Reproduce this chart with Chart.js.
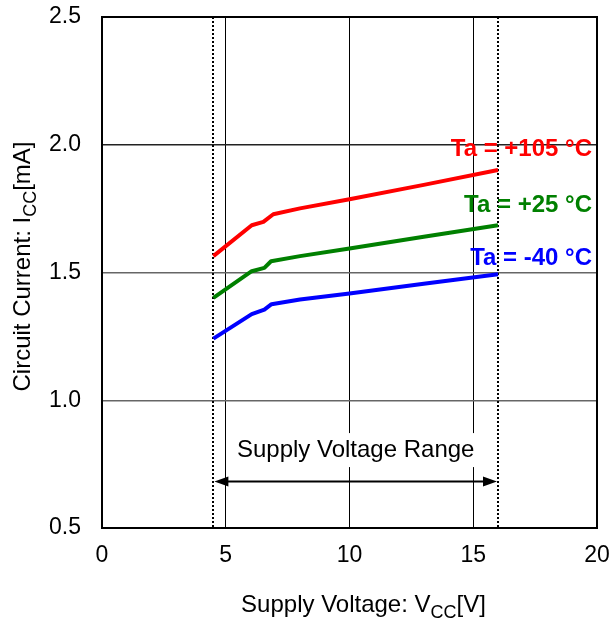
<!DOCTYPE html>
<html>
<head>
<meta charset="utf-8">
<script src="https://cdn.jsdelivr.net/npm/chart.js@4"></script>
<style>
  html, body { margin: 0; padding: 0; background: #fff; }
  #wrap { width: 609px; height: 626px; }
</style>
</head>
<body>
<div id="wrap"><canvas id="iccChart" width="609" height="626"></canvas></div>
<script>
// supply voltage sweep points [V] and circuit current [mA]
const vccHot = [4.5, 6.05, 6.52, 6.92, 8.0, 10, 13, 16];
const iccHot = [1.564, 1.685, 1.698, 1.728, 1.751, 1.787, 1.843, 1.901];
const vccRoom = [4.5, 6.05, 6.56, 6.83, 8.0, 10, 13, 16];
const iccRoom = [1.401, 1.505, 1.518, 1.544, 1.564, 1.594, 1.640, 1.685];
const vccCold = [4.5, 6.05, 6.56, 6.85, 8.0, 10, 13, 16];
const iccCold = [1.241, 1.337, 1.355, 1.376, 1.394, 1.418, 1.456, 1.493];

const seriesLabels = ['Ta = +105 °C', 'Ta = +25 °C', 'Ta = -40 °C'];
const seriesColors = ['#ff0000', '#008000', '#0000ff'];
const labelLevels = [1.983, 1.764, 1.556];

const xTicks = [0, 5, 10, 15, 20];
const yTicks = [0.5, 1.0, 1.5, 2.0, 2.5];
const vccRange = [4.5, 16];
const rangeArrowLevel = 0.682;
const rangeTextLevel = 0.805;

const FONT = 'Arial, "Liberation Sans", sans-serif';
const TEXT_SIZE = 24;

function toPoints(xs, ys) {
    return xs.map((x, i) => ({ x: x, y: ys[i] }));
}

// text with a subscript part, e.g. V + CC + [V]
function subText(ctx, parts, x, y, size) {
    const sub = Math.round(size * 0.75);
    const widths = parts.map(p => {
        ctx.font = (p.sub ? sub : size) + 'px ' + FONT;
        return ctx.measureText(p.t).width;
    });
    const total = widths.reduce((a, b) => a + b, 0);
    let cx = x - total / 2;
    ctx.textAlign = 'left';
    ctx.textBaseline = 'alphabetic';
    parts.forEach((p, i) => {
        ctx.font = (p.sub ? sub : size) + 'px ' + FONT;
        ctx.fillText(p.t, cx, y + (p.sub ? size * 0.25 : 0));
        cx += widths[i];
    });
}

const annotations = {
    id: 'annotations',
    beforeDatasetsDraw(chart) {
        const { ctx, chartArea, scales } = chart;
        const x = scales.x, y = scales.y;
        ctx.save();

        // white box behind the range caption
        const ty = y.getPixelForValue(rangeTextLevel);
        ctx.font = TEXT_SIZE + 'px ' + FONT;
        const tw = ctx.measureText('Supply Voltage Range').width;
        const cx = (x.getPixelForValue(vccRange[0]) + x.getPixelForValue(vccRange[1])) / 2;
        ctx.fillStyle = '#fff';
        ctx.fillRect(cx - tw / 2 - 6, ty - 17, tw + 12, 34);
        ctx.fillStyle = '#000';
        ctx.textAlign = 'center';
        ctx.textBaseline = 'middle';
        ctx.fillText('Supply Voltage Range', cx, ty);

        // double arrow across the range
        const ay = y.getPixelForValue(rangeArrowLevel);
        const x0 = x.getPixelForValue(vccRange[0]);
        const x1 = x.getPixelForValue(vccRange[1]);
        ctx.strokeStyle = '#000';
        ctx.lineWidth = 2;
        ctx.beginPath();
        ctx.moveTo(x0 + 8, ay);
        ctx.lineTo(x1 - 8, ay);
        ctx.stroke();
        ctx.beginPath();
        ctx.moveTo(x0 + 1, ay);
        ctx.lineTo(x0 + 15, ay - 5);
        ctx.lineTo(x0 + 15, ay + 5);
        ctx.closePath();
        ctx.moveTo(x1 - 1, ay);
        ctx.lineTo(x1 - 15, ay - 5);
        ctx.lineTo(x1 - 15, ay + 5);
        ctx.closePath();
        ctx.fill();

        // dotted range limits
        ctx.setLineDash([2, 2]);
        ctx.lineWidth = 2;
        vccRange.forEach(v => {
            const px = Math.round(x.getPixelForValue(v));
            ctx.beginPath();
            ctx.moveTo(px, chartArea.top);
            ctx.lineTo(px, chartArea.bottom);
            ctx.stroke();
        });
        ctx.restore();
    },
    afterDraw(chart) {
        const { ctx, chartArea, scales } = chart;
        const y = scales.y;
        ctx.save();

        // series captions
        ctx.font = 'bold ' + TEXT_SIZE + 'px ' + FONT;
        ctx.textAlign = 'right';
        ctx.textBaseline = 'middle';
        seriesLabels.forEach((t, i) => {
            ctx.fillStyle = seriesColors[i];
            ctx.fillText(t, chartArea.right - 5, y.getPixelForValue(labelLevels[i]));
        });

        // plot frame
        ctx.strokeStyle = '#000';
        ctx.lineWidth = 2;
        ctx.strokeRect(chartArea.left, chartArea.top, chartArea.right - chartArea.left, chartArea.bottom - chartArea.top);

        // axis titles
        ctx.fillStyle = '#000';
        subText(ctx, [{ t: 'Supply Voltage: V' }, { t: 'CC', sub: true }, { t: '[V]' }],
            (chartArea.left + chartArea.right) / 2 + 14, 612, TEXT_SIZE);
        ctx.translate(30, (chartArea.top + chartArea.bottom) / 2 - 6);
        ctx.rotate(-Math.PI / 2);
        subText(ctx, [{ t: 'Circuit Current: I' }, { t: 'CC', sub: true }, { t: '[mA]' }],
            0, 0, TEXT_SIZE);
        ctx.restore();
    }
};

const datasets = [
    toPoints(vccHot, iccHot),
    toPoints(vccRoom, iccRoom),
    toPoints(vccCold, iccCold)
].map((pts, i) => ({
    label: seriesLabels[i],
    data: pts,
    borderColor: seriesColors[i],
    borderWidth: 4,
    borderJoinStyle: 'round',
    pointRadius: 0,
    showLine: true,
    tension: 0,
    fill: false
}));

new Chart(document.getElementById('iccChart'), {
    type: 'scatter',
    data: { datasets: datasets },
    options: {
        responsive: false,
        animation: false,
        layout: { padding: { top: 17, right: 12, left: 0, bottom: 0 } },
        plugins: { legend: { display: false }, tooltip: { enabled: false } },
        scales: {
            x: {
                type: 'linear',
                min: xTicks[0],
                max: xTicks[xTicks.length - 1],
                afterBuildTicks: s => { s.ticks = xTicks.map(v => ({ value: v })); },
                afterFit: s => { s.height = 98; s.paddingLeft = 0; s.paddingRight = 0; },
                grid: { color: '#000', lineWidth: 1, drawTicks: false },
                border: { display: false },
                ticks: { color: '#000', font: { size: 23, family: FONT }, padding: 14, maxRotation: 0 }
            },
            y: {
                type: 'linear',
                min: yTicks[0],
                max: yTicks[yTicks.length - 1],
                afterBuildTicks: s => { s.ticks = yTicks.map(v => ({ value: v })); },
                afterFit: s => { s.width = 102; s.paddingTop = 0; s.paddingBottom = 0; },
                grid: {
                    color: c => (c.tick && c.tick.value === 2.0 ? '#222' : '#666'),
                    lineWidth: 1.5,
                    drawTicks: false
                },
                border: { display: false },
                ticks: {
                    color: '#000', font: { size: 23, family: FONT }, padding: 21,
                    callback: v => v.toFixed(1)
                }
            }
        }
    },
    plugins: [annotations]
});
</script>
</body>
</html>
